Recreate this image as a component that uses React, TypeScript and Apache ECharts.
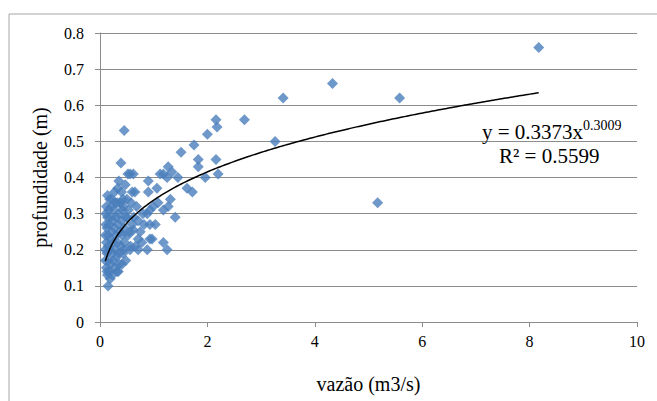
import React, { useEffect, useRef } from "react";
import * as echarts from "echarts";

// Measured discharge (m3/s) and depth (m) pairs
const vazao: number[] = [
  8.17, 4.33, 5.58, 3.41, 5.17, 2.69, 3.26, 2.16, 2.18, 2.0,
  1.75, 1.51, 1.83, 1.83, 2.16, 2.2, 1.96, 1.27, 1.34, 1.45,
  1.25, 1.62, 1.72, 1.31, 1.27, 1.4, 1.25, 1.18, 1.12, 1.06,
  0.99, 0.9, 0.9, 0.93, 0.88, 1.18, 1.08, 1.03, 0.93, 0.97,
  0.93, 1.18, 0.88, 0.71, 0.71, 0.71, 0.8, 0.65, 0.6, 0.62,
  0.52, 0.56, 0.45, 0.39, 0.47, 0.43, 0.32, 0.22, 0.6, 0.62,
  0.52, 0.5, 0.43, 0.56, 0.43, 0.41, 0.34, 0.19, 0.15, 0.13,
  0.1, 0.1, 0.1, 0.11, 0.11, 0.12, 0.12, 0.12, 0.13, 0.13,
  0.14, 0.14, 0.15, 0.15, 0.16, 0.16, 0.17, 0.18, 0.18, 0.19,
  0.2, 0.2, 0.21, 0.22, 0.22, 0.23, 0.24, 0.25, 0.25, 0.26,
  0.27, 0.28, 0.28, 0.29, 0.3, 0.3, 0.31, 0.32, 0.33, 0.34,
  0.35, 0.35, 0.36, 0.37, 0.38, 0.39, 0.4, 0.41, 0.42, 0.44,
  0.45, 0.46, 0.48, 0.48, 0.5, 0.53, 0.55, 0.57, 0.58, 0.63,
  0.66, 0.68, 0.75, 0.78, 0.82, 0.14, 0.18, 0.27, 0.33, 0.4,
  0.35,
];

const profundidade: number[] = [
  0.76, 0.66, 0.62, 0.62, 0.33, 0.56, 0.5, 0.56, 0.54, 0.52,
  0.49, 0.47, 0.45, 0.43, 0.45, 0.41, 0.4, 0.43, 0.415, 0.4,
  0.4, 0.37, 0.36, 0.34, 0.32, 0.29, 0.2, 0.41, 0.41, 0.37,
  0.32, 0.39, 0.36, 0.31, 0.3, 0.31, 0.33, 0.27, 0.27, 0.23,
  0.23, 0.22, 0.2, 0.2, 0.23, 0.28, 0.3, 0.36, 0.36, 0.41,
  0.41, 0.41, 0.53, 0.44, 0.38, 0.34, 0.33, 0.34, 0.27, 0.255,
  0.24, 0.29, 0.32, 0.2, 0.19, 0.16, 0.14, 0.12, 0.1, 0.14,
  0.17, 0.2, 0.24, 0.27, 0.3, 0.22, 0.15, 0.32, 0.19, 0.26,
  0.29, 0.13, 0.21, 0.24, 0.17, 0.31, 0.27, 0.14, 0.2, 0.23,
  0.29, 0.16, 0.32, 0.25, 0.19, 0.13, 0.28, 0.22, 0.17, 0.31,
  0.26, 0.15, 0.2, 0.33, 0.24, 0.29, 0.18, 0.14, 0.22, 0.27,
  0.3, 0.19, 0.16, 0.25, 0.33, 0.21, 0.28, 0.24, 0.31, 0.2,
  0.26, 0.22, 0.29, 0.17, 0.34, 0.31, 0.25, 0.21, 0.33, 0.29,
  0.21, 0.32, 0.25, 0.22, 0.27, 0.35, 0.34, 0.36, 0.37, 0.36,
  0.39,
];

// Power trendline y = a * x^b
const trendCoef = { a: 0.3373, b: 0.3009 };
const r2 = 0.5599;

const xTicks = [0, 2, 4, 6, 8, 10];
const yTicks = [0, 0.1, 0.2, 0.3, 0.4, 0.5, 0.6, 0.7, 0.8];

const FONT = "Liberation Serif";

const tickRich = { t: { fontFamily: FONT, fontSize: 16, color: "#000" } };
const nameRich = { n: { fontFamily: FONT, fontSize: 20, color: "#000" } };

export default function App() {
  const ref = useRef<HTMLDivElement>(null);

  useEffect(() => {
    if (!ref.current) return;
    const chart = echarts.init(ref.current, undefined, { renderer: "svg" });

    const points = vazao.map((v, i) => [v, profundidade[i]]);
    const xMin = Math.min(...vazao);
    const xMax = Math.max(...vazao);
    const trend: number[][] = [];
    const steps = 200;
    for (let i = 0; i <= steps; i++) {
      const x = xMin + ((xMax - xMin) * i) / steps;
      trend.push([x, trendCoef.a * Math.pow(x, trendCoef.b)]);
    }

    chart.setOption({
      animation: false,
      backgroundColor: "#ffffff",
      textStyle: { fontFamily: FONT, color: "#000" },
      grid: { left: 100, right: 20, top: 33, bottom: 79 },
      xAxis: {
        type: "value",
        min: xTicks[0],
        max: xTicks[xTicks.length - 1],
        interval: 2,
        name: "{n|vazão (m3/s)}",
        nameLocation: "middle",
        nameGap: 52,
        nameTextStyle: { fontFamily: FONT, fontSize: 20, color: "#000", rich: nameRich },
        axisLine: { lineStyle: { color: "#8c8c8c", width: 1 } },
        axisTick: { show: true, inside: false, length: 5, lineStyle: { color: "#8c8c8c" } },
        axisLabel: {
          fontFamily: FONT,
          fontSize: 16,
          color: "#000",
          margin: 11,
          formatter: (v: number) => `{t|${v}}`,
          rich: tickRich,
        },
        splitLine: { show: false },
      },
      yAxis: {
        type: "value",
        min: yTicks[0],
        max: yTicks[yTicks.length - 1],
        interval: 0.1,
        name: "{n|profundidade (m)}",
        nameLocation: "middle",
        nameGap: 50,
        nameRotate: 90,
        nameTextStyle: { fontFamily: FONT, fontSize: 20, color: "#000", rich: nameRich },
        axisLine: { show: true, lineStyle: { color: "#8c8c8c", width: 1 } },
        axisTick: { show: true, inside: false, length: 5, lineStyle: { color: "#8c8c8c" } },
        axisLabel: {
          fontFamily: FONT,
          fontSize: 16,
          color: "#000",
          margin: 16,
          formatter: (v: number) => `{t|${Math.round(v * 10) / 10}}`,
          rich: tickRich,
        },
        splitLine: { show: true, lineStyle: { color: "#8c8c8c", width: 1 } },
      },
      series: [
        {
          type: "scatter",
          data: points,
          symbol: "diamond",
          symbolSize: 11,
          itemStyle: { color: "#4a7ebb" },
          z: 2,
        },
        {
          type: "line",
          data: trend,
          showSymbol: false,
          smooth: false,
          lineStyle: { color: "#000", width: 1.5 },
          z: 3,
        },
      ],
      graphic: [
        {
          type: "polyline",
          shape: { points: [[9, 401], [9, 14], [657, 14]] },
          style: { stroke: "#a6a6a6", fill: "none", lineWidth: 1 },
          silent: true,
        },
        {
          type: "text",
          x: 482,
          y: 118,
          style: {
            text: `{m|y = ${trendCoef.a}x}{s|${trendCoef.b}}`,
            rich: {
              m: { fontFamily: FONT, fontSize: 21, fill: "#000", verticalAlign: "bottom" },
              s: { fontFamily: FONT, fontSize: 14, fill: "#000", verticalAlign: "top", padding: [0, 0, 10, 0] },
            },
          },
          z: 10,
        },
        {
          type: "text",
          x: 499,
          y: 145,
          style: {
            text: `R² = ${r2}`,
            fontFamily: FONT,
            fontSize: 21,
            fill: "#000",
          },
          z: 10,
        },
      ],
    });

    return () => chart.dispose();
  }, []);

  return (
    <div
      ref={ref}
      style={{ position: "absolute", left: 0, top: 0, width: 657, height: 401 }}
    />
  );
}
